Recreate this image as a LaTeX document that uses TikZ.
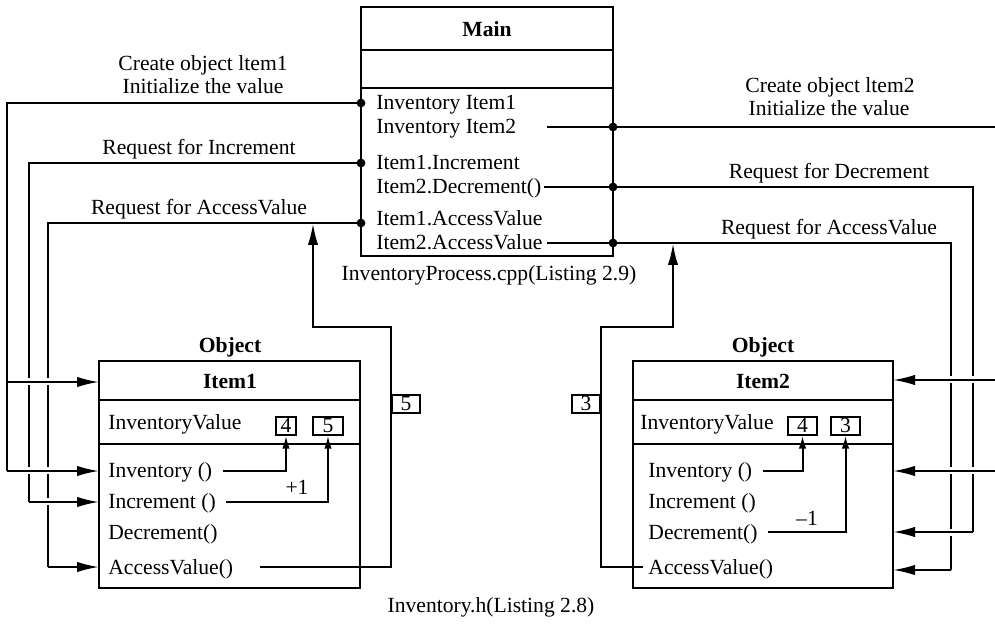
\documentclass[tikz,border=0pt]{standalone}
\usepackage{fontspec}
\setmainfont{Liberation Serif}
\usetikzlibrary{arrows.meta}
\newcommand\labelsize{\fontsize{10.8}{13}\selectfont}

\begin{document}
\begin{tikzpicture}[x=0.5pt, y=-0.5pt,
  font=\labelsize,
  frame/.style={draw, line width=0.85pt, inner sep=0pt, outer sep=0pt, anchor=north west},
  rule/.style={line width=0.85pt},
  wire/.style={line width=1pt},
  heavy/.style={line width=1.3pt},
  halo/.style={preaction={draw=white, line width=3.5pt, -, shorten <=2.5pt, shorten >=2.5pt}},
  tip/.style={-{Latex[length=11pt,width=5.2pt]}},
  smalltip/.style={-{Latex[length=6.5pt,width=3.8pt]}},
  lbl/.style={inner sep=0pt, text height=0.7em, text depth=0pt},
  row/.style={lbl, anchor=west},
  head/.style={lbl, font=\labelsize\bfseries},
  val/.style={draw, line width=0.7pt, inner sep=0pt, minimum height=9pt, text height=0.7em, text depth=0pt},
  dot/.style={circle, fill, inner sep=0pt, outer sep=0pt, minimum size=4.4pt}
]
\useasboundingbox (0,0) rectangle (995,624);

% ---------- class Main ----------
\node[frame, minimum width=126pt, minimum height=124.5pt] (main) at (361,7) {};
\draw[rule] (361,50) -- (613,50);
\draw[rule] (361,88) -- (613,88);
\node[head] (mainT) at (487,30) {Main};
\node[row] (m1) at (376,103) {Inventory Item1};
\node[row] (m2) at (376,127) {Inventory Item2};
\node[row] (m3) at (376,163) {Item1.Increment};
\node[row] (m4) at (376,187) {Item2.Decrement()};
\node[row] (m5) at (376,219) {Item1.AccessValue};
\node[row] (m6) at (376,243) {Item2.AccessValue};
\node[lbl] (capMain) at (489,274) {InventoryProcess.cpp(Listing 2.9)};

% ---------- object Item1 ----------
\node[frame, minimum width=130.5pt, minimum height=113.5pt] (i1) at (99,361) {};
\draw[rule] (99,400) -- (360,400);
\draw[rule] (99,444) -- (360,444);
\node[head] (o1) at (230,346) {Object};
\node[head] (t1) at (230,382) {Item1};
\node[row] (iv1) at (108,423) {InventoryValue};
\node[val, minimum width=10pt] (v14) at (286,426) {4};
\node[val, minimum width=15pt] (v15) at (328,426) {5};
\node[row] (r1i) at (108,471) {Inventory ()};
\node[row] (r1n) at (108,502) {Increment ()};
\node[row] (r1d) at (108,532) {Decrement()};
\node[row] (r1a) at (108,567) {AccessValue()};
\node[lbl] (plus) at (297,488) {+1};

% ---------- object Item2 ----------
\node[frame, minimum width=130pt, minimum height=113.5pt] (i2) at (633,361) {};
\draw[rule] (633,400) -- (893,400);
\draw[rule] (633,444) -- (893,444);
\node[head] (o2) at (763,346) {Object};
\node[head] (t2) at (763,382) {Item2};
\node[row] (iv2) at (640,423) {InventoryValue};
\node[val, minimum width=14.5pt] (v24) at (802.5,426) {4};
\node[val, minimum width=14.5pt] (v23) at (845.5,426) {3};
\node[row] (r2i) at (648,471) {Inventory ()};
\node[row] (r2n) at (648,502) {Increment ()};
\node[row] (r2d) at (648,532) {Decrement()};
\node[row] (r2a) at (648,567) {AccessValue()};
\node[lbl] (minus) at (807,518) {--1};

\node[lbl] (capObj) at (491,605) {Inventory.h(Listing 2.8)};

% ---------- returned values ----------
\node[val, minimum width=14pt] (ret5) at (406,404) {5};
\node[val, minimum width=14pt] (ret3) at (586,404) {3};

% ---------- junction dots on Main ----------
\node[dot] (dL1) at (361,103) {};
\node[dot] (dL2) at (361,163) {};
\node[dot] (dL3) at (361,223) {};
\node[dot] (dR1) at (613,127) {};
\node[dot] (dR2) at (613,187) {};
\node[dot] (dR3) at (613,243) {};

% ---------- message labels ----------
\node[lbl] at (203,64) {Create object ltem1};
\node[lbl] at (203,87) {Initialize the value};
\node[lbl] at (199,148) {Request for Increment};
\node[lbl] at (199,208) {Request for AccessValue};
\node[lbl] at (830,86) {Create object ltem2};
\node[lbl] at (829,109) {Initialize the value};
\node[lbl] at (829,172) {Request for Decrement};
\node[lbl] at (829,228) {Request for AccessValue};

% ---------- routing points ----------
\coordinate (kA) at (7,103);
\coordinate (kAb) at (7,382);
\coordinate (kA2) at (7,471);
\coordinate (kB) at (29,163);
\coordinate (kB2) at (29,502);
\coordinate (kC) at (48,223);
\coordinate (kC2) at (48,567);
\coordinate (s1) at (547,127);
\coordinate (eR1) at (995,127);
\coordinate (rD) at (973,187);
\coordinate (rD2) at (973,532);
\coordinate (rA) at (951,243);
\coordinate (rA2) at (951,570);
\coordinate (eR2) at (995,380);
\coordinate (eR3) at (995,471);

% left side: Main -> Item1
\draw[wire] (dL1) -- (kA) -- (kA2);
\draw[wire] (dL2) -- (kB) -- (kB2);
\draw[wire] (dL3) -- (kC) -- (kC2);
\draw[wire, halo, tip] (kAb) -- (i1.west |- kAb);
\draw[wire, halo, tip] (kA2) -- (i1.west |- kA2);
\draw[wire, halo, tip] (kB2) -- (i1.west |- kB2);
\draw[wire, halo, tip] (kC2) -- (i1.west |- kC2);

% right side: Main -> Item2
\draw[wire] (s1) -- (dR1.center) -- (eR1);
\draw[wire] ([xshift=1pt]m4.east) -- (dR2.center) -- (rD) -- (rD2);
\draw[wire] ([xshift=2pt]m6.east) -- (dR3.center) -- (rA) -- (rA2);
\draw[wire, halo, tip] (eR2) -- (i2.east |- eR2);
\draw[wire, halo, tip] (eR3) -- (i2.east |- eR3);
\draw[wire, halo, tip] (rD2) -- (i2.east |- rD2);
\draw[wire, halo, tip] (rA2) -- (i2.east |- rA2);

% inside Item1
\draw[wire, smalltip] ([xshift=5pt]r1i.east) -- (v14.south |- r1i.east) -- (v14.south);
\draw[wire, smalltip] ([xshift=5pt]r1n.east) -- (v15.south |- r1n.east) -- (v15.south);

% inside Item2
\draw[wire, smalltip] ([xshift=5pt]r2i.east) -- (v24.south |- r2i.east) -- (v24.south);
\draw[wire, smalltip] ([xshift=5pt]r2d.east) -- (v23.south |- r2d.east) -- (v23.south);

% AccessValue results back to Main
\coordinate (a1s) at (260,567);
\coordinate (a1b) at (391,567);
\coordinate (a1t) at (391,327);
\coordinate (a1l) at (313,327);
\coordinate (a1e) at (313,223);
\draw[heavy, tip] (a1s) -- (a1b) -- (a1t) -- (a1l) -- (a1e);

\coordinate (a2s) at (643,567);
\coordinate (a2b) at (601,567);
\coordinate (a2t) at (601,327);
\coordinate (a2r) at (673,327);
\coordinate (a2e) at (673,243);
\draw[heavy, tip] (a2s) -- (a2b) -- (a2t) -- (a2r) -- (a2e);
\end{tikzpicture}
\end{document}
